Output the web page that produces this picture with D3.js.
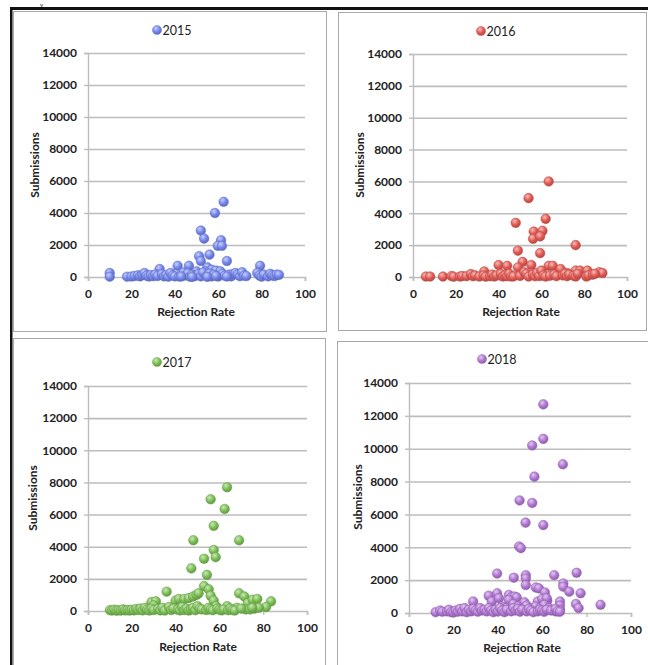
<!DOCTYPE html>
<html><head><meta charset="utf-8">
<script src="https://cdn.jsdelivr.net/npm/d3@7"></script>
<style>
html,body{margin:0;padding:0;background:#fff;}
svg{display:block;font-family:Lato,"Open Sans",sans-serif;}
</style></head>
<body>
<svg id="c" width="648" height="665"></svg>
<script>
// ---------- DATA ----------
const years = ["2015","2016","2017","2018"];
const xTicks = [0,20,40,60,80,100];
const yTicks = [0,2000,4000,6000,8000,10000,12000,14000];
const xTitle = "Rejection Rate";
const yTitle = "Submissions";

const rates2015 = [10,10,62.5,58.5,52,53.5,61.3,59.8,61.7,51.2,52,56,64,33,41.3,46.5,79.3,55,57,59,61,54,50,
 18,20,21.5,23,24,25,26,27,28,29,30,31,32,34,35,36,37,38,39,40,42,43,44,45,46,47,48,49,50,51,52,53,55,56,57,58,60,62,63,65,66,67,68,69,70,71,72,73,78,79,80,81,83,84,85,86,87,88,43,48,55,59,64];
const subs2015 = [250,20,4700,4000,2900,2400,2300,1950,1950,1300,1000,1400,1000,500,700,700,700,600,450,400,350,350,350,
 20,30,60,100,40,120,250,80,30,120,50,150,60,180,40,120,20,250,90,40,30,180,280,90,230,20,140,60,100,180,40,280,80,220,40,140,30,200,80,150,40,200,250,150,50,300,80,60,250,90,20,150,40,200,100,60,150,130,30,10,10,60,30];

const rates2016 = [63.4,54,48,62,56.4,60.5,56.1,59.4,76,49,59.4,51.2,40,44,49,55.3,63.4,65.3,33.3,69,72,76,78,81.5,87,88.5,
 6,8,14,18,19,22,23,25,27,28,29,31,33,34,36,37,38,39,41,42,43,44,45,46,47,50,52,53,54,56,57,58,59,60,61,62,64,66,67,70,71,72,73,75,76,77,81,82,84,85];
const subs2016 = [6000,4950,3400,3650,2850,2900,2400,2550,2000,1650,1500,950,750,700,600,750,700,700,350,500,250,400,400,400,300,250,
 30,30,30,60,20,30,60,50,180,50,100,30,100,20,50,150,30,100,200,30,100,50,200,30,40,70,300,200,30,150,50,250,60,400,100,30,80,150,50,100,200,50,150,80,30,200,30,100,150,200];

const rates2017 = [63.5,56,62.4,57.4,48.1,69,57.4,58.3,53,47.2,54.3,53,55.1,56,57.4,58.5,35.9,69,71.4,73,75.2,77.3,83.6,81.3,40,41.5,44,46,48,49.5,50.5,29,31,30,63.5,68,72,76,78,
 10,11,12,13,14,15,16,17,18,19,20,21,22,23,24,25,26,27,28,29,30,32,33,34,35,37,38,39,41,42,43,44,45,46,47,48,49,50,51,52,54,55,56,57,59,60,61,62,64,65,66,67,70,74,75];
const subs2017 = [7700,6950,6350,5300,4400,4400,3800,3350,3250,2650,2250,1550,1350,950,650,300,1200,1100,900,500,700,750,600,250,650,750,750,800,900,1000,1100,550,600,350,300,200,100,150,200,
 50,30,80,20,50,30,100,40,60,30,80,40,120,60,150,40,200,80,30,150,60,120,40,200,30,250,60,150,100,40,250,60,150,30,100,200,50,300,150,100,60,200,100,50,150,80,40,100,50,150,60,30,150,100,200];

const rates2018 = [60.5,60.5,55.5,69.3,56.5,49.8,55.5,52.5,60.5,49.6,50.4,39.7,47.2,52.6,52.6,52.6,65.4,75.5,69.5,69.5,72.2,77.3,57.1,58.5,61.2,35.9,39.7,37.3,40.5,45,46,47.5,48.5,45,28.9,62.3,68,68,68,75.2,76.4,86.3,52,58,60,62,42,44,47,49,53,55,57,59,61,63,65,66,
 12,14,15,17,18,19,20,21,22,23,24,25,26,27,28,29,30,31,32,33,34,35,36,37,38,39,40,41,42,43,44,46,47,48,49,50,51,53,54,55,56,58,59,60,61,62,64,66,67,68];
const subs2018 = [12700,10600,10200,9050,8300,6850,6700,5500,5350,4050,3950,2400,2150,2300,2100,1700,2300,2450,1800,1600,1300,1200,1550,1500,1250,1050,1200,700,900,1100,950,1000,950,800,700,750,700,450,200,550,300,500,650,700,850,900,400,300,550,400,450,300,400,300,500,300,200,100,
 50,150,80,100,200,50,30,150,80,250,100,300,50,200,100,250,150,80,300,150,200,100,300,150,50,200,100,300,150,50,200,100,300,150,250,80,200,100,250,150,50,100,200,150,80,200,150,250,100,80];

const ratesByYear = [rates2015, rates2016, rates2017, rates2018];
const subsByYear = [subs2015, subs2016, subs2017, subs2018];
const colors = ["#7486ee","#e45a54","#7cc055","#b277d4"];

// ---------- LAYOUT ----------
const panels = [
  {box:[13,11,313,320], plot:[88,53,305,277], legend:[157,30], yT:[35,165], xT:[196,316]},
  {box:[338,12,308,318], plot:[413,54,627,277], legend:[481,31], yT:[360,165], xT:[521,316]},
  {box:[13,338,312,340], plot:[88,386,307,611], legend:[157,362], yT:[33,498], xT:[198,651]},
  {box:[337,341,320,340], plot:[409,383,631,613], legend:[482,359], yT:[358,497], xT:[522,652]}
];

const svg = d3.select("#c");
const defs = svg.append("defs");
colors.forEach((c,i)=>{
  const g = defs.append("radialGradient").attr("id","g"+i)
    .attr("cx","38%").attr("cy","32%").attr("r","70%");
  g.append("stop").attr("offset","0%").attr("stop-color", d3.interpolateRgb(c,"#fff")(0.6));
  g.append("stop").attr("offset","55%").attr("stop-color", c);
  g.append("stop").attr("offset","100%").attr("stop-color", d3.color(c).darker(0.7));
});

// page decorations (document frame)
svg.append("text").attr("x",40).attr("y",6.5).attr("font-size",6).attr("fill","#222").text("y");
svg.append("rect").attr("x",10).attr("y",7).attr("width",638).attr("height",3).attr("fill","#111");
svg.append("rect").attr("x",10).attr("y",7).attr("width",2.5).attr("height",658).attr("fill","#111");

panels.forEach((p,i)=>{
  const g = svg.append("g");
  g.append("rect").attr("x",p.box[0]+0.5).attr("y",p.box[1]+0.5).attr("width",p.box[2]).attr("height",p.box[3])
    .attr("fill","#fff").attr("stroke","#a9a9a9").attr("stroke-width",1);
  const [x0,y0,x1,y1] = p.plot;
  const x = d3.scaleLinear().domain([0,100]).range([x0,x1]);
  const y = d3.scaleLinear().domain([0,14000]).range([y1,y0]);

  // gridlines
  g.append("g").attr("transform",`translate(${x0},0)`)
    .call(d3.axisLeft(y).tickValues(yTicks.slice(1)).tickSize(-(x1-x0)).tickFormat(""))
    .call(s=>s.select(".domain").remove())
    .call(s=>s.selectAll("line").attr("stroke","#bdbdbd").attr("stroke-width",1.6));

  // y axis
  const ya = g.append("g").attr("transform",`translate(${x0},0)`)
    .call(d3.axisLeft(y).tickValues(yTicks).tickSize(4).tickPadding(7).tickFormat(d3.format("d")));
  ya.select(".domain").attr("stroke","#bdbdbd").attr("stroke-width",1.4);
  ya.selectAll("line").attr("stroke","#bdbdbd").attr("stroke-width",1.4);
  ya.selectAll("text").attr("font-family","Lato, sans-serif").attr("font-size",12).attr("font-weight",700).attr("fill","#222");

  // x axis
  const xa = g.append("g").attr("transform",`translate(0,${y1})`)
    .call(d3.axisBottom(x).tickValues(xTicks).tickSize(4).tickPadding(8));
  xa.select(".domain").attr("stroke","#bdbdbd").attr("stroke-width",1.6);
  xa.selectAll("line").attr("stroke","#bdbdbd").attr("stroke-width",1.4);
  xa.selectAll("text").attr("font-family","Lato, sans-serif").attr("font-size",12).attr("font-weight",700).attr("fill","#222");

  // titles
  g.append("text").attr("x",p.xT[0]).attr("y",p.xT[1]).attr("text-anchor","middle")
    .attr("font-size",12).attr("font-weight",700).attr("fill","#222").text(xTitle);
  g.append("text").attr("transform",`translate(${p.yT[0]},${p.yT[1]}) rotate(-90)`).attr("text-anchor","middle")
    .attr("dy","0.35em").attr("font-size",12).attr("font-weight",700).attr("fill","#222").text(yTitle);

  // legend
  g.append("circle").attr("cx",p.legend[0]).attr("cy",p.legend[1]).attr("r",4.6)
    .attr("fill","url(#g"+i+")").attr("stroke",d3.color(colors[i]).darker(0.5)).attr("stroke-width",0.4);
  g.append("text").attr("x",p.legend[0]+5.5).attr("y",p.legend[1]+4.5)
    .attr("font-size",12.5).attr("fill","#222").attr("font-weight",400).text(years[i]);

  // points
  const pts = ratesByYear[i].map((r,k)=>({r, s: subsByYear[i][k]}));
  g.append("g").selectAll("circle").data(pts).join("circle")
    .attr("cx",d=>x(d.r)).attr("cy",d=>y(d.s)).attr("r",4.8)
    .attr("fill","url(#g"+i+")")
    .attr("stroke",d3.color(colors[i]).darker(0.6)).attr("stroke-width",0.5);
});
</script>
</body></html>
